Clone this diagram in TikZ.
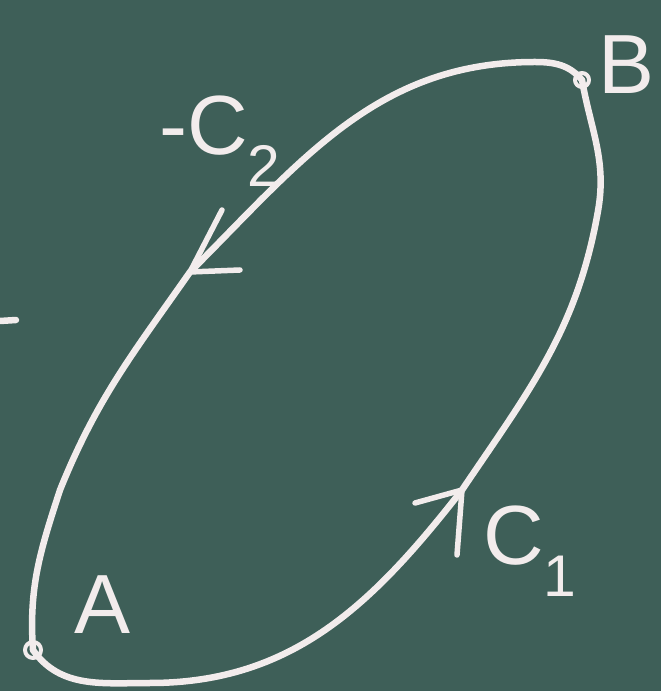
\documentclass[tikz,border=0pt]{standalone}
\usepackage{fontspec}
\setmainfont{Liberation Sans}
\definecolor{board}{RGB}{62,95,88}
\definecolor{chalk}{RGB}{242,236,236}
\begin{document}
\begin{tikzpicture}[x=1pt,y=1pt,
  chalkline/.style={draw=chalk,line width=6.5pt,line cap=round,line join=round},
  chalklbl/.style={text=chalk,font=\fontsize{84}{84}\selectfont,inner sep=0pt}]
\fill[board] (0,0) rectangle (661,691);
\useasboundingbox (0,0) rectangle (661,691);
\coordinate (A) at (33,41);
\coordinate (B) at (582,611);
\coordinate (c1a) at (150,8);
\coordinate (c1b) at (462,201);
\coordinate (c1c) at (598,480);
\coordinate (c2a) at (535,629);
\coordinate (c2b) at (190,419);
\coordinate (c2c) at (60,201);
% C1
\draw[chalkline] (A) to[out=-55,in=180] (c1a) to[out=0,in=-128] (c1b)
  to[out=56,in=-100] (c1c) to[out=80,in=-80] (B);
% -C2
\draw[chalkline] (B) to[out=130,in=0] (c2a) to[out=180,in=45] (c2b)
  to[out=-125,in=68] (c2c) to[out=-108,in=94] (A);
% arrowheads
\coordinate (h1a) at (415,188);
\coordinate (h1b) at (457,136);
\draw[chalkline,line width=5.5pt] (h1a) -- (c1b) -- (h1b);
\coordinate (h2a) at (222,481);
\coordinate (h2b) at (240,421);
\draw[chalkline,line width=5.5pt] (h2a) -- (c2b) -- (h2b);
% points
\draw[chalkline,line width=4pt] (A) circle[radius=8];
\draw[chalkline,line width=4pt] (B) circle[radius=7];
% labels
\node[chalklbl] (lA) at (103,86) {A};
\node[chalklbl] (lB) at (627,626) {B};
\node[chalklbl] (lC2) at (220,550) {-C\textsubscript{2}};
\node[chalklbl] (lC1) at (530,140) {C\textsubscript{1}};
% fragment at left edge
\coordinate (f1) at (0,370);
\coordinate (f2) at (16,371);
\draw[chalkline] (f1) -- (f2);
\end{tikzpicture}
\end{document}
